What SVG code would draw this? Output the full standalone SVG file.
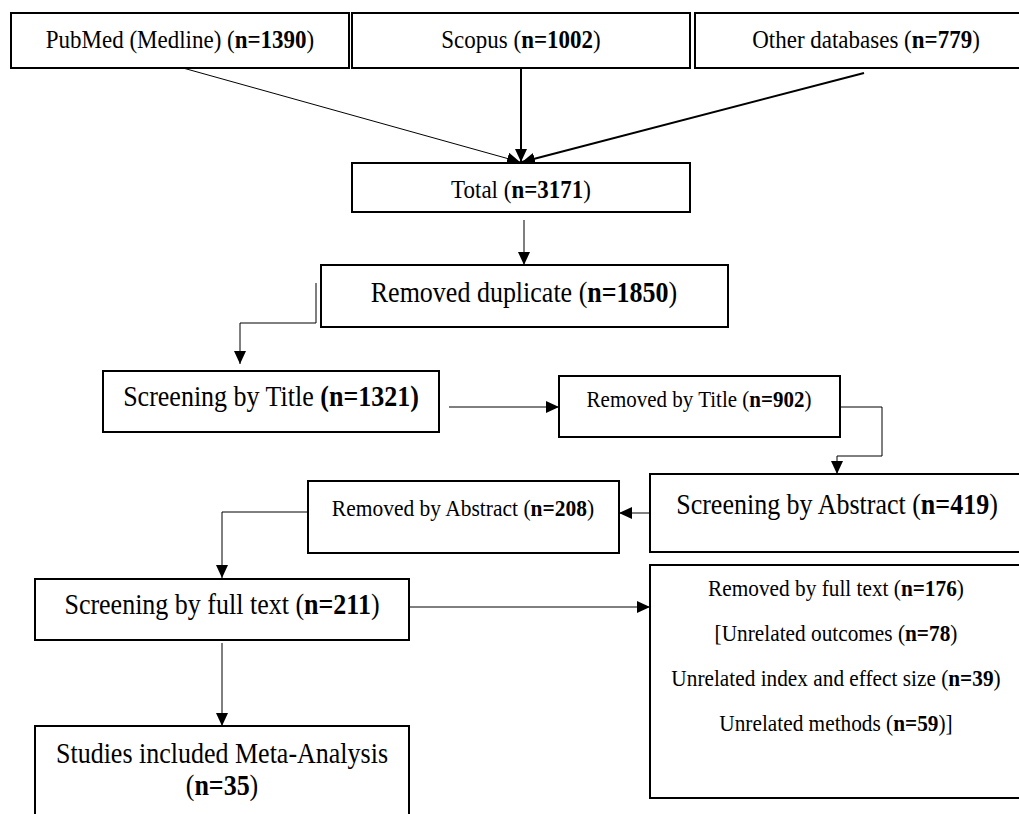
<svg xmlns="http://www.w3.org/2000/svg" width="1019" height="814" viewBox="0 0 1019 814">
<style>
.box{fill:#fff;stroke:#000;stroke-width:2}
.t{font-family:"Liberation Serif","Times New Roman",Times,serif;fill:#000;text-anchor:middle}
.b{font-weight:bold}
.c{fill:none;stroke:#000;stroke-width:1}
.c2{fill:none;stroke:#000;stroke-width:2}
</style>
<defs>
<marker id="ah" markerUnits="userSpaceOnUse" markerWidth="14" markerHeight="12" refX="13" refY="6" orient="auto">
<path d="M0,0 L13,6 L0,12 Z" fill="#000"/>
</marker>
</defs>
<rect width="1019" height="814" fill="#fff"/>
<g id="connectors">
<line class="c" x1="183" y1="68" x2="520" y2="162" marker-end="url(#ah)"/>
<line class="c2" x1="521" y1="68" x2="521" y2="162" marker-end="url(#ah)"/>
<line class="c2" x1="864" y1="73" x2="522" y2="162" marker-end="url(#ah)"/>
<line class="c" x1="524" y1="220" x2="524" y2="265" marker-end="url(#ah)"/>
<polyline class="c" points="316,283 316,323 240,323 240,364" marker-end="url(#ah)"/>
<line class="c" x1="449" y1="407" x2="559" y2="407" marker-end="url(#ah)"/>
<polyline class="c" points="840,407 882,407 882,456 837,456 837,474" marker-end="url(#ah)"/>
<line class="c" x1="650" y1="513" x2="619" y2="513" marker-end="url(#ah)"/>
<polyline class="c" points="308,512 222,512 222,578" marker-end="url(#ah)"/>
<line class="c" x1="409" y1="607" x2="650" y2="607" marker-end="url(#ah)"/>
<line class="c" x1="222" y1="643" x2="222" y2="726" marker-end="url(#ah)"/>
</g>
<g id="pubmed">
<rect class="box" x="11" y="13" width="338" height="55"/>
<text class="t" transform="translate(180,48) scale(1,1.12)" font-size="23">PubMed (Medline) (<tspan class="b">n=1390</tspan>)</text>
</g>
<g id="scopus">
<rect class="box" x="352" y="13" width="338" height="55"/>
<text class="t" transform="translate(521,48) scale(1,1.12)" font-size="23">Scopus (<tspan class="b">n=1002</tspan>)</text>
</g>
<g id="other">
<rect class="box" x="695" y="13" width="340" height="55"/>
<text class="t" transform="translate(866,48) scale(1,1.12)" font-size="23">Other databases (<tspan class="b">n=779</tspan>)</text>
</g>
<g id="total">
<rect class="box" x="352" y="163" width="338" height="49"/>
<text class="t" transform="translate(521,198) scale(1,1.12)" font-size="23">Total (<tspan class="b">n=3171</tspan>)</text>
</g>
<g id="duplicate">
<rect class="box" x="321" y="265" width="407" height="62"/>
<text class="t" transform="translate(524,302) scale(1,1.12)" font-size="26">Removed duplicate (<tspan class="b">n=1850</tspan>)</text>
</g>
<g id="title">
<rect class="box" x="103" y="371" width="336" height="61"/>
<text class="t" transform="translate(271,406) scale(1,1.12)" font-size="26">Screening by Title <tspan class="b">(n=1321)</tspan></text>
</g>
<g id="removed-title">
<rect class="box" x="559" y="376" width="281" height="61"/>
<text class="t" transform="translate(699,407) scale(1,1.12)" font-size="21">Removed by Title (<tspan class="b">n=902</tspan>)</text>
</g>
<g id="abstract">
<rect class="box" x="650" y="474" width="380" height="78"/>
<text class="t" transform="translate(837,514) scale(1,1.12)" font-size="26">Screening by Abstract (<tspan class="b">n=419</tspan>)</text>
</g>
<g id="removed-abstract">
<rect class="box" x="308" y="481" width="311" height="72"/>
<text class="t" transform="translate(463,516) scale(1,1.12)" font-size="21.5">Removed by Abstract (<tspan class="b">n=208</tspan>)</text>
</g>
<g id="fulltext">
<rect class="box" x="35" y="579" width="374" height="61"/>
<text class="t" transform="translate(222,614) scale(1,1.12)" font-size="26">Screening by full text (<tspan class="b">n=211</tspan>)</text>
</g>
<g id="removed-fulltext">
<rect class="box" x="650" y="565" width="380" height="233"/>
<text class="t" transform="translate(836,596) scale(1,1.12)" font-size="21.3">Removed by full text (<tspan class="b">n=176</tspan>)</text>
<text class="t" transform="translate(836,641) scale(1,1.12)" font-size="21.3">[Unrelated outcomes (<tspan class="b">n=78</tspan>)</text>
<text class="t" transform="translate(836,686) scale(1,1.12)" font-size="21.3">Unrelated index and effect size (<tspan class="b">n=39</tspan>)</text>
<text class="t" transform="translate(836,731) scale(1,1.12)" font-size="21.3">Unrelated methods (<tspan class="b">n=59</tspan>)]</text>
</g>
<g id="studies">
<rect class="box" x="35" y="726" width="374" height="100"/>
<text class="t" transform="translate(222,763) scale(1,1.12)" font-size="26">Studies included Meta-Analysis</text>
<text class="t" transform="translate(222,795) scale(1,1.12)" font-size="26">(<tspan class="b">n=35</tspan>)</text>
</g>
</svg>
